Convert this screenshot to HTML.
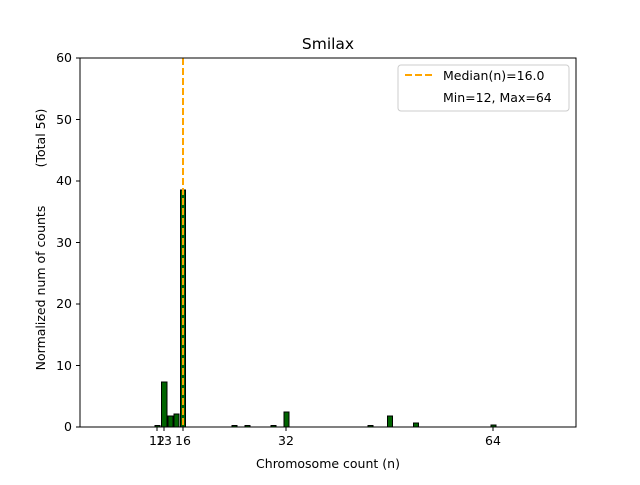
<!DOCTYPE html>
<html><head><meta charset="utf-8"><style>body{margin:0;background:#fff}</style></head><body>
<svg width="640" height="480" xmlns="http://www.w3.org/2000/svg" font-family="DejaVu Sans, Liberation Sans, sans-serif" font-size="12.5">
<rect width="640" height="480" fill="#fff"/>
<g fill="#006400" stroke="#000" stroke-width="1">
<rect x="155" y="425.5" width="5" height="1.5"/>
<rect x="161.5" y="382" width="5.5" height="45"/>
<rect x="168" y="416" width="5" height="11"/>
<rect x="174" y="414" width="5" height="13"/>
<rect x="180.5" y="190" width="5" height="237"/>
<rect x="232" y="425.5" width="5" height="1.5"/>
<rect x="245" y="425.5" width="5" height="1.5"/>
<rect x="271" y="425.5" width="5" height="1.5"/>
<rect x="284" y="412" width="5" height="15"/>
<rect x="368" y="425.5" width="5" height="1.5"/>
<rect x="387.5" y="416" width="5" height="11"/>
<rect x="413.5" y="423" width="5" height="4"/>
<rect x="491" y="425" width="5" height="2"/>
</g>
<line x1="183" y1="58" x2="183" y2="427" stroke="#ffa500" stroke-width="2" stroke-dasharray="7,3"/>
<rect x="80" y="58" width="496" height="369" fill="none" stroke="#000" stroke-width="1"/>
<g stroke="#000">
<line x1="157" y1="427" x2="157" y2="431"/><line x1="164" y1="427" x2="164" y2="431"/>
<line x1="183" y1="427" x2="183" y2="431"/><line x1="286" y1="427" x2="286" y2="431"/>
<line x1="493" y1="427" x2="493" y2="431"/>
<line x1="76" y1="427" x2="80" y2="427"/><line x1="76" y1="365.5" x2="80" y2="365.5"/>
<line x1="76" y1="304" x2="80" y2="304"/><line x1="76" y1="242.5" x2="80" y2="242.5"/>
<line x1="76" y1="181" x2="80" y2="181"/><line x1="76" y1="119.5" x2="80" y2="119.5"/>
<line x1="76" y1="58" x2="80" y2="58"/>
</g>
<g text-anchor="middle">
<text x="157" y="445">12</text><text x="164" y="445">13</text><text x="183" y="445">16</text>
<text x="286" y="445">32</text><text x="493" y="445">64</text>
<text x="328" y="468">Chromosome count (n)</text>
<text x="328" y="49" font-size="15.5">Smilax</text>
</g>
<g text-anchor="end">
<text x="72" y="431">0</text><text x="72" y="370">10</text><text x="72" y="308">20</text>
<text x="72" y="247">30</text><text x="72" y="185">40</text><text x="72" y="124">50</text><text x="72" y="62">60</text>
</g>
<text transform="translate(45,288) rotate(-90)" text-anchor="middle">Normalized num of counts</text>
<text transform="translate(45,138) rotate(-90)" text-anchor="middle">(Total 56)</text>
<rect x="398" y="65" width="171" height="46" rx="3" fill="#fff" stroke="#ccc"/>
<line x1="405" y1="75" x2="433" y2="75" stroke="#ffa500" stroke-width="2" stroke-dasharray="7,3"/>
<text x="443" y="80">Median(n)=16.0</text>
<text x="443" y="102">Min=12, Max=64</text>
</svg>
</body></html>
